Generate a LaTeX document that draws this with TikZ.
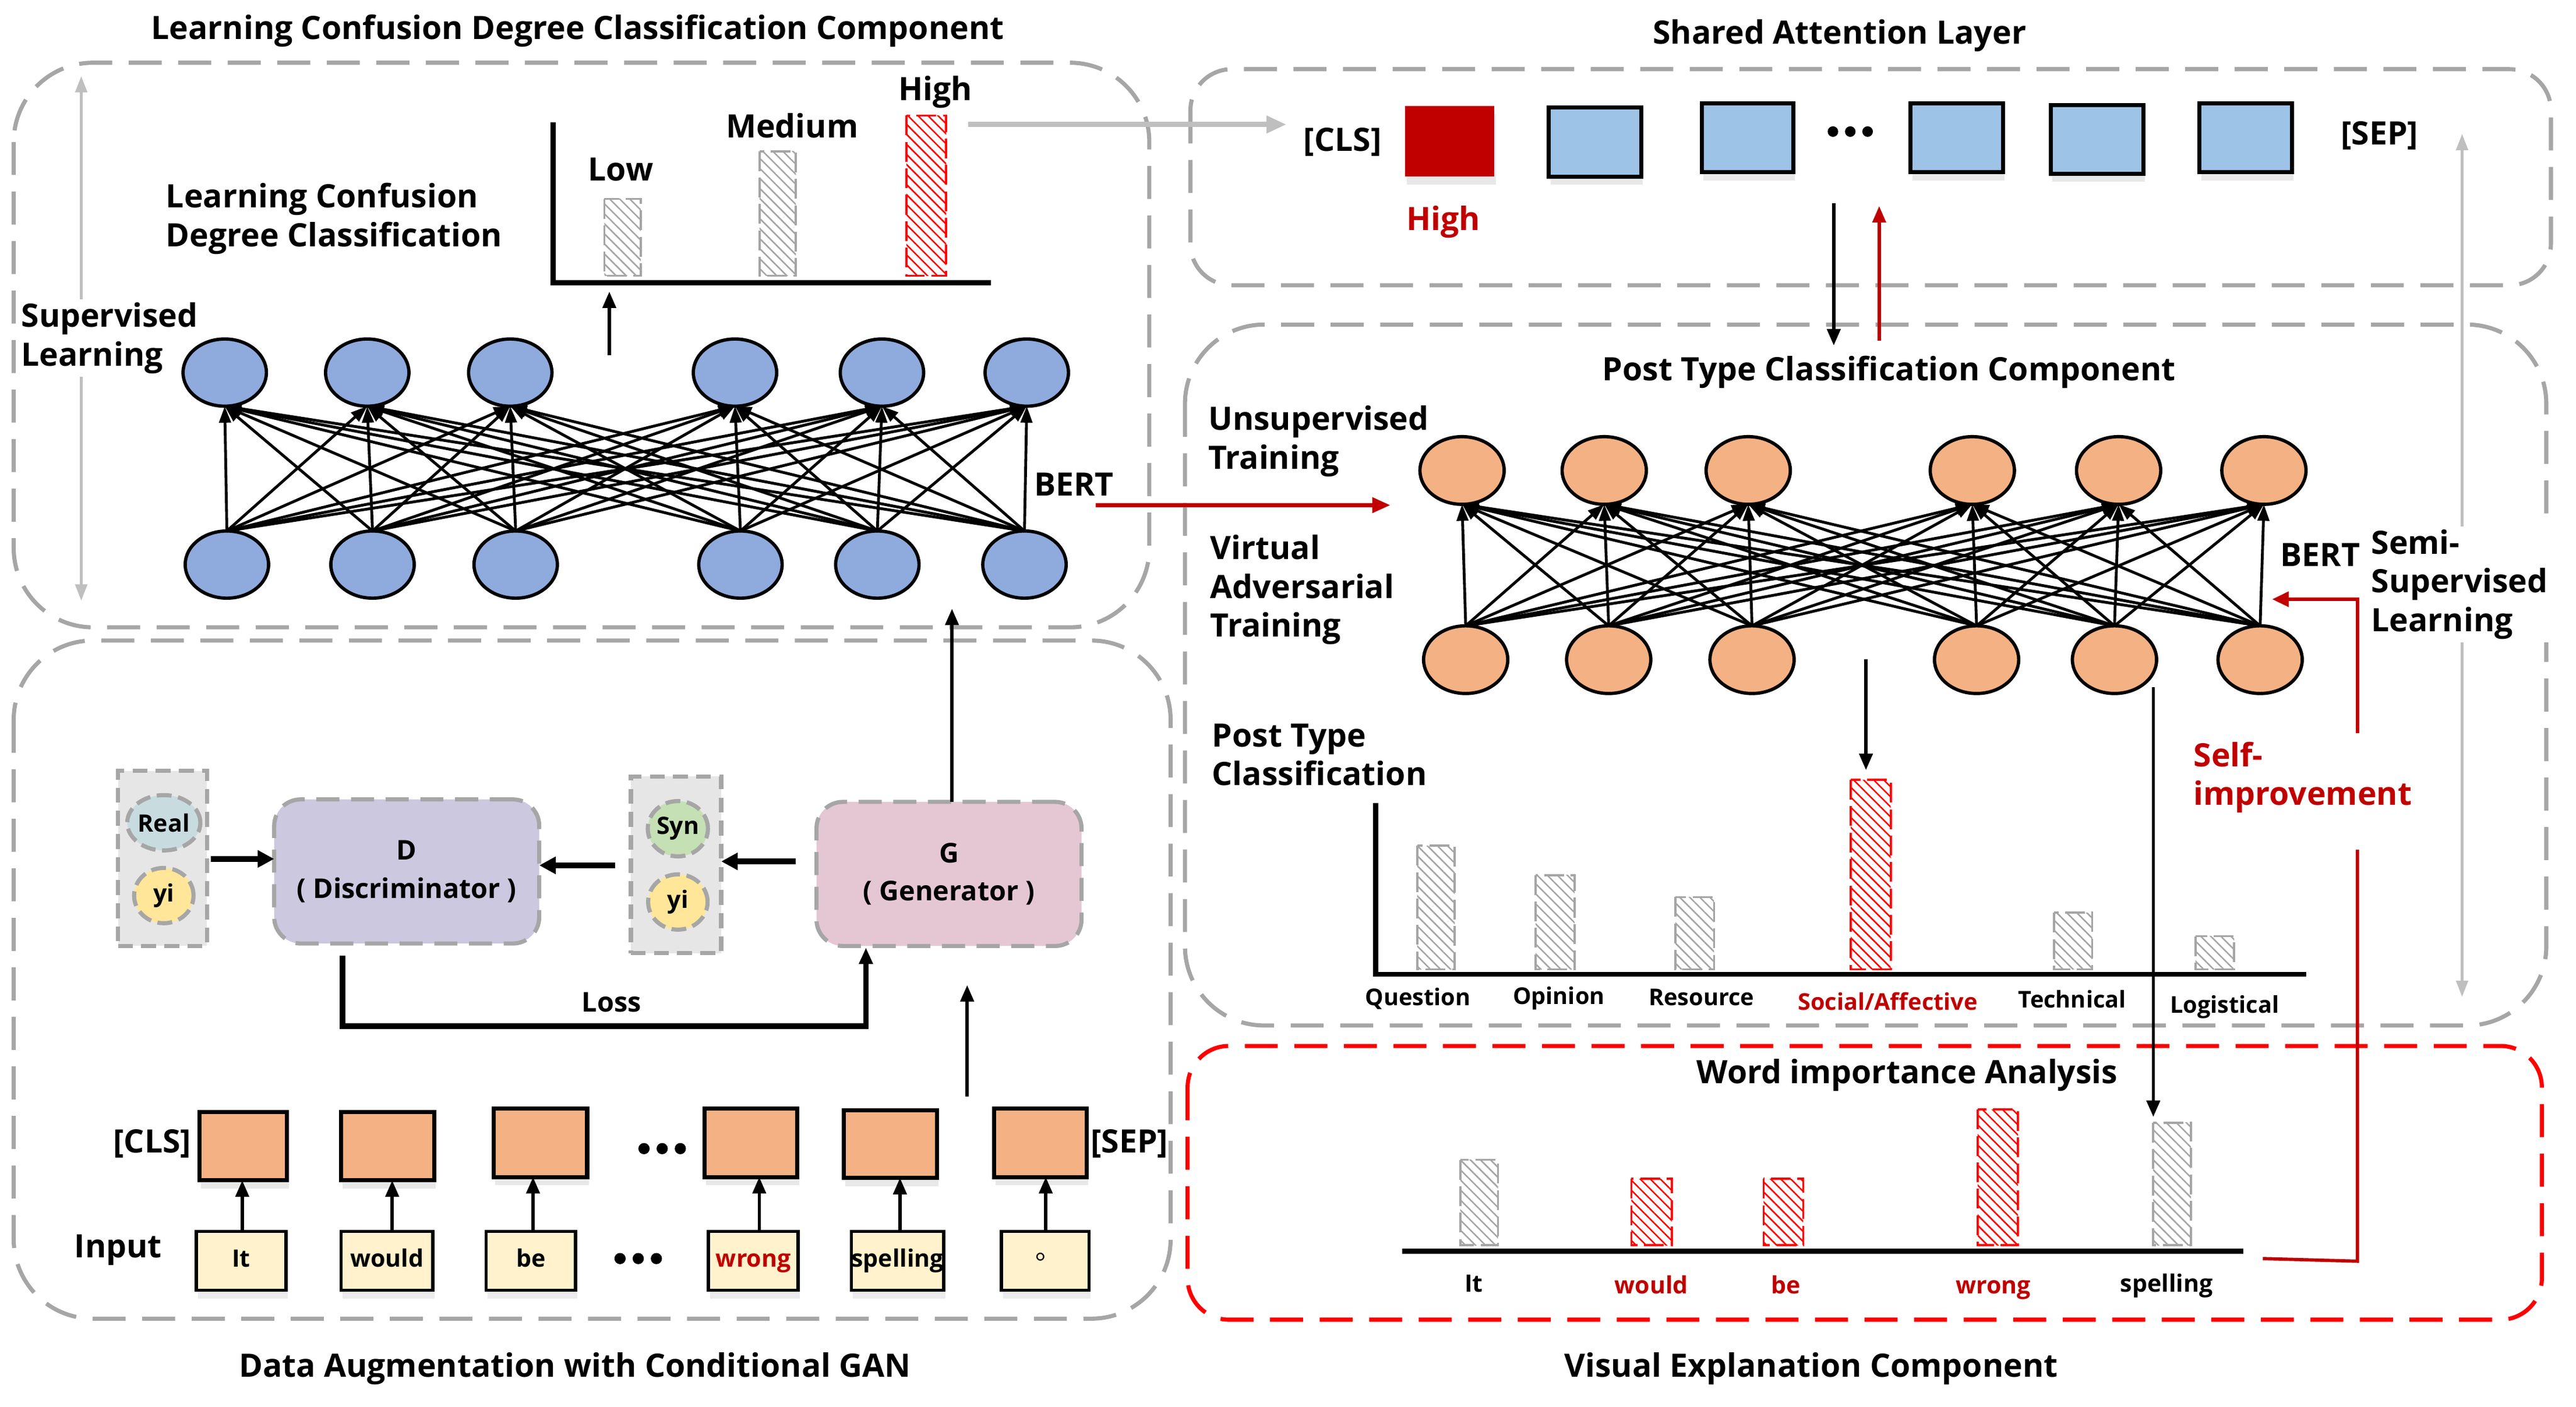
\documentclass[tikz,border=0pt]{standalone}
\usepackage{fontspec}
\setmainfont{Open Sans}
\newfontfamily\cjk{Noto Sans CJK SC}
\usetikzlibrary{arrows.meta,patterns.meta,shapes.geometric,shadows}
\definecolor{boxgray}{HTML}{A6A6A6}
\definecolor{lgray}{HTML}{BFBFBF}
\definecolor{hgray}{HTML}{A5A5A5}
\definecolor{nblue}{HTML}{8FAADC}
\definecolor{norange}{HTML}{F4B183}
\definecolor{sqblue}{HTML}{9DC3E6}
\definecolor{dred}{HTML}{C00000}
\definecolor{bred}{HTML}{FF0000}
\definecolor{inyel}{HTML}{FFF2CC}
\definecolor{pgray}{HTML}{E7E6E6}
\definecolor{dfill}{HTML}{CBC8DF}
\definecolor{gfill}{HTML}{E5C7D3}
\definecolor{realf}{HTML}{C8DCE0}
\definecolor{synf}{HTML}{C5E0B4}
\definecolor{yif}{HTML}{FFE699}
\begin{document}
\begin{tikzpicture}[x=1pt,y=-1pt,
  every node/.style={inner sep=0pt,outer sep=0pt},
  txt/.style={font=\fontsize{19.5}{23.5}\selectfont\bfseries,align=left},
  ctxt/.style={font=\fontsize{19.5}{23.5}\selectfont\bfseries,align=center},
  stxt/.style={font=\fontsize{14}{17}\selectfont\bfseries,text height=10.5pt,text depth=3.5pt},
  wtxt/.style={font=\fontsize{14.5}{17}\selectfont\bfseries,text height=11pt,text depth=3.5pt},
  grp/.style={draw=boxgray,line width=2.5pt,dash pattern=on 20pt off 10pt,rounded corners=48pt},
  bell/.style={ellipse,draw,line width=2pt,fill=nblue,minimum width=50.5pt,minimum height=40.7pt},
  oell/.style={ellipse,draw,line width=2pt,fill=norange,minimum width=51pt,minimum height=41pt},
  netarr/.style={-{Triangle[length=10pt,width=7pt]},line width=1.7pt},
  arr/.style={-{Triangle[length=10pt,width=8pt]},line width=2pt},
  tharr/.style={-{Triangle[length=10pt,width=10pt]},line width=3.5pt},
  garr/.style={-{Triangle[length=12pt,width=10pt]},line width=3pt,draw=lgray,color=lgray},
  dgarr/.style={{Triangle[length=10pt,width=7pt]}-{Triangle[length=10pt,width=7pt]},line width=2pt,draw=lgray,color=lgray},
  gbar/.style={draw=hgray,line width=1.3pt,dash pattern=on 12pt off 4pt,pattern={Lines[angle=-45,distance=4.3pt,line width=0.9pt]},pattern color=hgray},
  rbar/.style={draw=bred,line width=1.3pt,dash pattern=on 12pt off 4pt,pattern={Lines[angle=-45,distance=4.3pt,line width=0.9pt]},pattern color=bred},
  sqb/.style={draw,line width=2.5pt,fill=sqblue,drop shadow={opacity=0.18,shadow xshift=1pt,shadow yshift=-5pt}},
  tok/.style={draw,line width=2.5pt,fill=norange,drop shadow={opacity=0.18,shadow xshift=1pt,shadow yshift=-5pt}},
  inbox/.style={draw,line width=2pt,fill=inyel,minimum width=54.3pt,minimum height=35.6pt,text height=11pt,text depth=3.5pt,font=\fontsize{14.5}{17}\selectfont\bfseries,drop shadow={opacity=0.15,shadow xshift=1pt,shadow yshift=-5pt}},
  panel/.style={draw=boxgray,line width=2.5pt,dash pattern=on 9pt off 5pt,fill=pgray},
  circ/.style={ellipse,draw=boxgray,line width=2.5pt,dash pattern=on 9pt off 4pt,minimum width=36pt,minimum height=33.5pt,font=\fontsize{14.5}{17}\selectfont\bfseries},
  gbox/.style={draw=boxgray,line width=2.5pt,dash pattern=on 14pt off 7pt,rounded corners=16pt,minimum width=160.5pt,minimum height=87.3pt,align=center,font=\fontsize{16.5}{23}\selectfont\bfseries}
]
\useasboundingbox (0,0) rectangle (1560,852);

% ---------- group boxes ----------
\draw[grp] (8.3,38) rectangle (696,380);
\draw[grp] (8.3,388) rectangle (708.9,798.8);
\draw[grp,rounded corners=25pt] (720.9,41.9) rectangle (1544.8,172.8);
\draw[grp] (717.6,196.6) rectangle (1542,621.2);
\draw[grp,draw=bred,rounded corners=25pt] (719.2,633.6) rectangle (1539.3,799.4);

% ---------- titles ----------
\node[ctxt] (ttlA) at (349.8,18.6) {Learning Confusion Degree Classification Component};
\node[ctxt] (ttlB) at (1114,21.6) {Shared Attention Layer};
\node[ctxt] (ttlC) at (1144,225.5) {Post Type Classification Component};
\node[ctxt] (ttlD) at (1155,651.4) {Word importance Analysis};
\node[ctxt] (ttlE) at (348.2,829) {Data Augmentation with Conditional GAN};
\node[ctxt] (ttlF) at (1096.8,829) {Visual Explanation Component};

% ---------- top-left: learning confusion ----------
\coordinate (slTop) at (49.2,46);
\coordinate (slBot) at (49.2,364);
\draw[dgarr] (slTop) -- (slBot);
\node[txt,anchor=west,fill=white,inner sep=2pt] (supl) at (10.9,204.8) {Supervised\\Learning};
\node[txt,anchor=west] (lcdc) at (100.5,132.4) {Learning Confusion\\Degree Classification};

\draw[line width=3pt] (335,74) -- (335,171.2) -- (600,171.2);
\path[gbar] (366,120.5) rectangle (388,167);
\path[gbar] (460,91.6) rectangle (482,167);
\path[rbar] (549,70) rectangle (573,167);
\node[ctxt] (lLow) at (375.9,102.7) {Low};
\node[ctxt] (lMed) at (479.7,76) {Medium};
\node[ctxt] (lHigh) at (566.4,55.7) {High};
\coordinate (upA) at (369,215.3);
\coordinate (upB) at (369,176.6);
\draw[arr] (upA) -- (upB);

\foreach \n/\x in {1/136.1,2/222.4,3/309,4/445.1,5/534.1,6/621.8}
  \node[bell] (lt\n) at (\x,225.7) {};
\foreach \n/\x in {1/137.4,2/225.6,3/312.3,4/448.4,5/531.3,6/620.4}
  \node[bell] (lb\n) at (\x,342) {};
\foreach \i in {1,...,6}{\foreach \j in {1,...,6}{\draw[netarr] (lb\i.north) -- (lt\j.south);}}
\node[txt,anchor=west] (bertL) at (626.3,293.3) {BERT};

\coordinate (highOut) at (586.3,75.4);
\coordinate (clsIn) at (779,75.4);
\draw[garr] (highOut) -- (clsIn);

\coordinate (bertOut) at (663.7,306);
\coordinate (bertIn) at (842,306);
\draw[dred,line width=2.5pt,-{Triangle[length=11pt,width=9pt]}] (bertOut) -- (bertIn);

% ---------- top-right: shared attention ----------
\node[ctxt] (clsT) at (813,86) {[CLS]};
\node[fill=dred,minimum width=54pt,minimum height=42.7pt,drop shadow={opacity=0.18,shadow xshift=1pt,shadow yshift=-5pt}] (rsq) at (878,85.6) {};
\node[ctxt,text=dred] (highR) at (874,134.3) {High};
\node[sqb,minimum width=56pt,minimum height=42pt] (bs1) at (966,86) {};
\node[sqb,minimum width=55.5pt,minimum height=41.5pt] (bs2) at (1058.3,83.5) {};
\node[sqb,minimum width=56pt,minimum height=41.5pt] (bs3) at (1185,83.5) {};
\node[sqb,minimum width=56pt,minimum height=41.5pt] (bs4) at (1270,84.4) {};
\node[sqb,minimum width=56pt,minimum height=41.5pt] (bs5) at (1360,83.5) {};
\foreach \x in {1110,1120.5,1131} \fill (\x,79.7) circle (3.2pt);
\node[ctxt] (sepT) at (1441,82.3) {[SEP]};
\coordinate (sdA) at (1110.5,123);
\coordinate (sdB) at (1110.5,209.3);
\draw[arr] (sdA) -- (sdB);
\coordinate (suA) at (1138,206.5);
\coordinate (suB) at (1138,124.8);
\draw[arr,dred] (suA) -- (suB);

% ---------- middle-right: post type ----------
\coordinate (ssTop) at (1491,81);
\coordinate (ssBot) at (1491,604);
\draw[dgarr] (ssTop) -- (ssBot);
\node[txt,anchor=west,fill=white,inner sep=2pt] (semi) at (1434,354) {Semi-\\Supervised\\Learning};
\node[txt,anchor=west] (unsup) at (731.8,267.3) {Unsupervised\\Training};
\node[txt,anchor=west] (vat) at (733,357.3) {Virtual\\Adversarial\\Training};

\foreach \n/\x in {1/885.4,2/971.5,3/1058.7,4/1194.4,5/1283,6/1371}
  \node[oell] (rt\n) at (\x,285) {};
\foreach \n/\x in {1/887.6,2/974.2,3/1061,4/1197,5/1280.5,6/1368.7}
  \node[oell] (rb\n) at (\x,399.6) {};
\foreach \i in {1,...,6}{\foreach \j in {1,...,6}{\draw[netarr] (rb\i.north) -- (rt\j.south);}}
\node[txt,anchor=west] (bertR) at (1381,336) {BERT};

\node[txt,anchor=west] (ptc) at (734,457.2) {Post Type\\Classification};
\draw[line width=3pt] (833.1,486.6) -- (833.1,590.2) -- (1396.5,590.2);
\path[gbar] (858.2,512.3) rectangle (881,587.2);
\path[gbar] (930,530.1) rectangle (953.5,587.2);
\path[gbar] (1014.6,543.4) rectangle (1038,587.2);
\path[rbar] (1120.8,472.4) rectangle (1145,587.2);
\path[gbar] (1244,552.9) rectangle (1267,587.2);
\path[gbar] (1329.5,567.1) rectangle (1353,587.2);
\node[stxt] (cQ) at (858.7,605.5) {Question};
\node[stxt] (cO) at (944,605) {Opinion};
\node[stxt] (cR) at (1030.4,605.5) {Resource};
\node[stxt,text=dred] (cS) at (1143.2,608.5) {Social/Affective};
\node[stxt] (cT) at (1254.9,607) {Technical};
\node[stxt] (cL) at (1347.2,610) {Logistical};

\coordinate (pdA) at (1130,399.3);
\coordinate (pdB) at (1130,466.5);
\draw[arr] (pdA) -- (pdB);
\coordinate (ldA) at (1304,416.2);
\coordinate (ldB) at (1304,676.6);
\draw[arr] (ldA) -- (ldB);

% self-improvement loop
\node[txt,anchor=west,text=dred] (selfi) at (1328.4,470.9) {Self-\\improvement};
\coordinate (siA) at (1427.6,444.3);
\coordinate (siB) at (1427.6,363);
\coordinate (siC) at (1376,363);
\draw[dred,line width=2pt,-{Triangle[length=10pt,width=9pt]}] (siA) -- (siB) -- (siC);
\coordinate (siD) at (1370.3,762.4);
\coordinate (siE) at (1427.6,764);
\coordinate (siF) at (1427.6,514.7);
\draw[dred,line width=2pt] (siD) -- (siE) -- (siF);

% ---------- word importance ----------
\draw[line width=3pt] (849.3,757.9) -- (1358.4,757.9);
\path[gbar] (884.3,702.6) rectangle (907.2,754.3);
\path[rbar] (987.9,714.1) rectangle (1012.4,754.3);
\path[rbar] (1068,714.1) rectangle (1092,754.3);
\path[rbar] (1197.6,672.1) rectangle (1222.1,754.3);
\path[gbar] (1303.9,680.1) rectangle (1326.8,754.3);
\node[wtxt] (wIt) at (892.5,779) {It};
\node[wtxt,text=dred] (wWould) at (1000,780) {would};
\node[wtxt,text=dred] (wBe) at (1081.6,780) {be};
\node[wtxt,text=dred] (wWrong) at (1207,780) {wrong};
\node[wtxt] (wSpell) at (1312,779) {spelling};

% ---------- bottom-left: GAN ----------
\node[panel,minimum width=53.9pt,minimum height=106pt] (pReal) at (98.45,520) {};
\node[circ,fill=realf] (cReal) at (99.2,498.4) {Real};
\node[circ,fill=yif] (cYi1) at (99.2,542.5) {yi};
\node[gbox,fill=dfill] (Dbox) at (246.3,527.9) {D\\( Discriminator )};
\node[panel,minimum width=54.7pt,minimum height=107.1pt] (pSyn) at (409.4,523.9) {};
\node[circ,fill=synf] (cSyn) at (410.5,502) {Syn};
\node[circ,fill=yif] (cYi2) at (410.5,546.4) {yi};
\node[gbox,fill=gfill] (Gbox) at (574.7,529.4) {G\\( Generator )};

\draw[tharr] (pReal.east |- 0,520.3) ++(2.4,0) -- (Dbox.west |- 0,520.3);
\draw[tharr] (pSyn.west |- 0,524.2) ++(-9.4,0) -- (Dbox.east |- 0,524.2);
\draw[tharr] (Gbox.west |- 0,521.8) ++(-12.4,0) -- (pSyn.east |- 0,521.8);

\coordinate (gUp) at (576.5,368.7);
\draw[arr] (Gbox.north -| 576.5,0) -- (gUp);

\coordinate (lossA) at (207.5,579);
\coordinate (lossB) at (207.5,621.7);
\coordinate (lossC) at (524.4,621.7);
\coordinate (lossD) at (524.4,574);
\draw[line width=3.5pt,-{Triangle[length=10pt,width=8pt]}] (lossA) -- (lossB) -- (lossC) -- (lossD);
\node[ctxt,font=\fontsize{16.5}{20}\selectfont\bfseries] (lossT) at (370.3,607.1) {Loss};

\coordinate (tkA) at (585.7,664.1);
\coordinate (tkB) at (585.7,596.7);
\draw[arr] (tkA) -- (tkB);

\node[ctxt] (clsB) at (92.2,692.8) {[CLS]};
\node[ctxt] (sepB) at (684,692.8) {[SEP]};
\node[ctxt] (inputT) at (71.5,757.3) {Input};

\node[tok,minimum width=53.1pt,minimum height=41.4pt] (tk1) at (147.35,694.3) {};
\node[tok,minimum width=56.3pt,minimum height=41.4pt] (tk2) at (234.75,694.3) {};
\node[tok,minimum width=56.7pt,minimum height=41.5pt] (tk3) at (327.25,692.25) {};
\node[tok,minimum width=56.3pt,minimum height=41.5pt] (tk4) at (454.75,692.25) {};
\node[tok,minimum width=56.3pt,minimum height=40.8pt] (tk5) at (539.15,693.1) {};
\node[tok,minimum width=56.2pt,minimum height=41.5pt] (tk6) at (630,692.25) {};
\foreach \x in {390,401,412} \fill (\x,695.8) circle (3.4pt);

\node[inbox] (in1) at (146,763.8) {It};
\node[inbox,minimum width=55.4pt] (in2) at (234.3,763.8) {would};
\node[inbox] (in3) at (321.5,763.8) {be};
\node[inbox] (in4) at (456.2,763.8) {\textcolor{dred}{wrong}};
\node[inbox] (in5) at (543.5,763.8) {spelling};
\node[inbox,minimum width=53pt] (in6) at (633,763.8) {};
\node[font=\fontsize{16}{18}\selectfont\cjk] (dotc) at (635,761.5) {。};
\foreach \x in {375.5,386.5,397.5} \fill (\x,762.4) circle (3.4pt);

\foreach \k/\x in {1/146.7,2/237.5,3/322.8,4/459.8,5/545,6/633.3}
  \draw[arr] (in\k.north -| \x,0) -- (tk\k.south -| \x,0);
\end{tikzpicture}
\end{document}
